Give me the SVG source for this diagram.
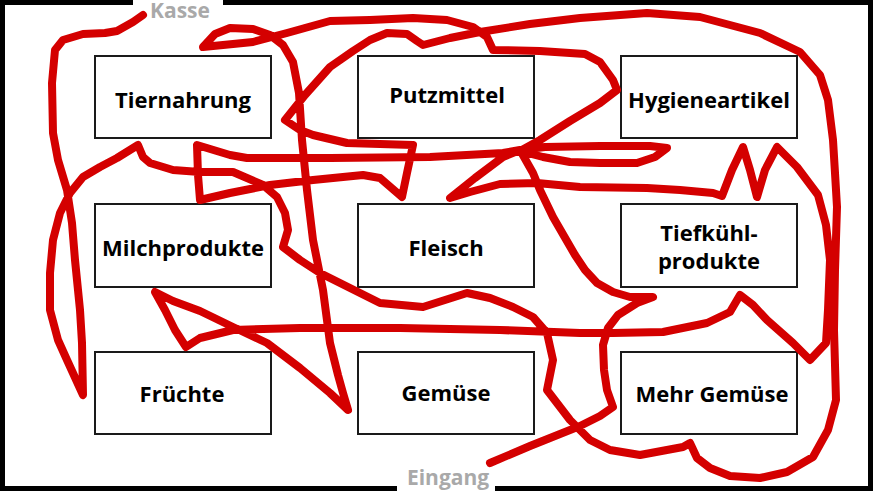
<svg xmlns="http://www.w3.org/2000/svg" width="873" height="491" viewBox="0 0 873 491">
<style>
.frame{fill:none;stroke:#000;stroke-width:5}
.box{fill:#fff;stroke:#1a1a1a;stroke-width:2}
.lbl{font-family:"Open Sans","Noto Sans","Liberation Sans",sans-serif;font-weight:700;font-size:22px;fill:#000;text-anchor:middle}
.door{font-family:"Open Sans","Noto Sans","Liberation Sans",sans-serif;font-weight:700;font-size:21px;fill:#a9a9a9;text-anchor:middle}
.route{fill:none;stroke:#d40000;stroke-width:8;stroke-linejoin:round;stroke-linecap:round}
</style>
<rect width="873" height="491" fill="#fff"/>
<g id="frame">
<path class="frame" d="M133,2.5 H2.5 V488.5 H397 M495,488.5 H870.5 V2.5 H223"/>
<text class="door" x="180" y="18">Kasse</text>
<text class="door" x="448" y="485">Eingang</text>
</g>
<g id="n-tiernahrung"><rect class="box" x="95" y="56" width="176" height="82"/><text class="lbl" x="183" y="108">Tiernahrung</text></g>
<g id="n-putzmittel"><rect class="box" x="358" y="56" width="176" height="82"/><text class="lbl" x="447" y="103">Putzmittel</text></g>
<g id="n-hygieneartikel"><rect class="box" x="621" y="56" width="176" height="82"/><text class="lbl" x="709" y="108">Hygieneartikel</text></g>
<g id="n-milchprodukte"><rect class="box" x="95" y="204" width="176" height="83"/><text class="lbl" x="183" y="256">Milchprodukte</text></g>
<g id="n-fleisch"><rect class="box" x="358" y="204" width="176" height="83"/><text class="lbl" x="446" y="256">Fleisch</text></g>
<g id="n-tiefkuehl"><rect class="box" x="621" y="204" width="176" height="83"/><text class="lbl" x="709" y="241">Tiefkühl-</text><text class="lbl" x="709" y="269">produkte</text></g>
<g id="n-fruechte"><rect class="box" x="95" y="352" width="176" height="82"/><text class="lbl" x="182" y="402">Früchte</text></g>
<g id="n-gemuese"><rect class="box" x="358" y="352" width="176" height="82"/><text class="lbl" x="446" y="401">Gemüse</text></g>
<g id="n-mehrgemuese"><rect class="box" x="621" y="352" width="176" height="82"/><text class="lbl" x="712" y="402">Mehr Gemüse</text></g>
<g id="connectors">
<path class="route" d="M490,463 L530,446 L560,434 L580,426 L600,416 L613,407 L607,390 L604,370 L603,345 L608,328 L618,315 L637,303 L653,297 L630,297 L613,292 L597,283 L585,270 L575,255 L553,217 L540,190 L533,173 L520,150
L545,147 L600,146 L650,146 L667,148 L655,157 L637,163 L600,163 L570,162 L543,157 L520,151
L540,140 L570,121 L600,103 L617,90 L613,80 L600,62 L585,54 L540,51 L493,50 L487,37 L473,27 L447,20 L413,18 L370,20 L330,21 L287,33 L253,42 L203,47 L215,34 L230,28 L253,29 L270,35 L283,45 L293,62 L299,93 L302,140 L307,190 L313,240 L323,290 L330,343 L338,375 L343,393 L348,410 L330,393 L300,368 L267,343 L233,327 L200,311 L173,301 L155,292 L165,310 L175,330 L186,347 L200,338 L233,330 L300,328 L400,328 L500,330 L580,333 L613,333 L663,332 L707,323 L730,312 L740,295 L753,305 L767,320 L793,343 L810,360 L826,343 L828,310 L830,260 L826,225 L818,195 L797,167 L777,147 L765,170 L757,197 L750,170 L743,147 L732,170 L722,196 L713,193 L680,190 L647,188 L580,187 L537,183 L500,184 L470,192 L450,198 L475,178 L503,157 L520,150
L503,153 L430,157 L330,158 L247,158 L230,155 L197,145 L198,175 L200,200 L230,193 L270,185 L313,180 L363,175 L380,178 L402,197 L407,173 L413,145 L380,144 L347,143 L313,135 L300,130 L285,120 L305,95 L330,67 L353,51 L370,40 L387,33 L407,34 L417,41 L423,45 L450,38 L480,32 L530,24 L580,18 L647,13 L700,17 L760,33 L800,52 L820,75 L828,100 L833,140 L835,173 L837,207 L835,270 L834,330 L836,400 L828,430 L813,457 L787,472 L760,478 L730,476 L710,468 L697,458 L690,443 L683,447 L640,455 L610,450 L590,440 L570,420 L547,390 L553,360 L547,333 L533,317 L513,307 L490,298 L467,293 L445,300 L423,307 L380,303 L350,288 L320,273 L300,260 L283,247 L288,230 L285,213 L277,197 L263,185 L233,172 L200,172 L173,170 L150,163 L143,157 L138,145 L117,158 L100,167 L83,177 L70,193 L60,213 L53,240 L50,273 L50,310 L58,340 L67,360 L83,395 L82,343 L80,310 L78,290 L75,260 L72,223 L67,190 L58,160 L53,133 L52,83 L55,50 L63,40 L83,34 L105,33 L117,31 L133,22 L143,15"/>
</g>
</svg>
